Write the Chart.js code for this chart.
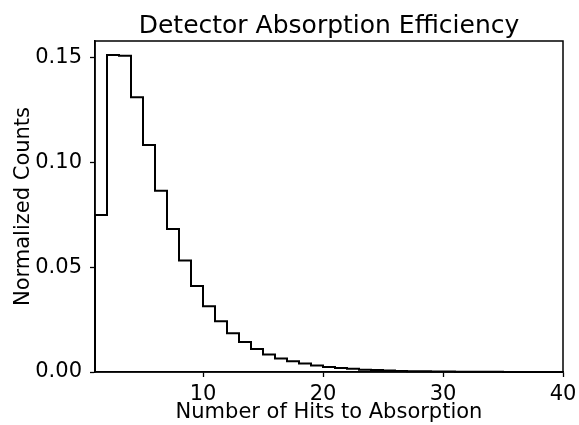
<!DOCTYPE html>
<html>
<head>
<meta charset="utf-8">
<script src="https://cdn.jsdelivr.net/npm/chart.js@4.4.1/dist/chart.umd.min.js"></script>
<style>
  html, body { margin: 0; padding: 0; background: #fff; }
  #wrap { width: 579px; height: 425px; }
</style>
</head>
<body>
<div id="wrap"><canvas id="myChart" width="579" height="425"></canvas></div>
<script>
// histogram bins: left edge of each bin (width 1) and normalized counts
var binEdges = [1, 2, 3, 4, 5, 6, 7, 8, 9, 10, 11, 12, 13, 14, 15, 16, 17, 18, 19, 20,
                21, 22, 23, 24, 25, 26, 27, 28, 29, 30, 31, 32, 33, 34, 35, 36, 37, 38, 39];
var counts = [0.0749, 0.1513, 0.1509, 0.1311, 0.1084, 0.0865, 0.0683, 0.0532, 0.0410, 0.0314,
              0.0242, 0.0185, 0.0143, 0.0110, 0.0084, 0.0065, 0.0051, 0.0040, 0.0031, 0.0024,
              0.0019, 0.0015, 0.0011, 0.0009, 0.0007, 0.0005, 0.0004, 0.0003, 0.0002, 0.0002,
              0.0001, 0.0001, 0.0001, 0.0001, 0.00005, 0.00005, 0.00003, 0.00003, 0.00002];
var xTicks = [10, 20, 30, 40];
var yTicks = [0, 0.05, 0.10, 0.15];
var xMin = 1, xMax = 40;
var yMin = 0, yMax = 0.158;
var chartTitle = "Detector Absorption Efficiency";

// step outline like matplotlib histtype='step'
var points = [{x: binEdges[0], y: 0}];
for (var i = 0; i < counts.length; i++) {
  points.push({x: binEdges[i], y: counts[i]});
}
points.push({x: xMax, y: 0});

var font = "'DejaVu Sans', sans-serif";

// box around the plot area (all four spines) + title centred over the axes
var frame = {
  id: 'frame',
  afterDraw: function(chart) {
    var a = chart.chartArea, ctx = chart.ctx;
    ctx.save();
    ctx.strokeStyle = '#000';
    ctx.lineWidth = 1.5;
    ctx.strokeRect(a.left, a.top, a.right - a.left, a.bottom - a.top);
    ctx.fillStyle = '#000';
    ctx.font = "25px " + font;
    ctx.textAlign = 'center';
    ctx.textBaseline = 'alphabetic';
    ctx.fillText(chartTitle, (a.left + a.right) / 2, 33);
    ctx.restore();
  }
};

new Chart("myChart", {
  type: "line",
  data: {
    datasets: [{
      data: points,
      stepped: 'before',
      borderColor: '#000',
      borderWidth: 2,
      pointRadius: 0,
      fill: false,
      clip: 2
    }]
  },
  options: {
    responsive: false,
    animation: false,
    layout: { padding: { left: 0, right: 16, top: 41, bottom: 0 } },
    plugins: {
      legend: { display: false },
      tooltip: { enabled: false },
      title: { display: false }
    },
    scales: {
      x: {
        type: 'linear',
        min: xMin,
        max: xMax,
        afterBuildTicks: function(s) { s.ticks = xTicks.map(function(v) { return {value: v}; }); },
        afterFit: function(s) { s.height = 53; s.paddingLeft = 0; s.paddingRight = 0; },
        grid: { drawOnChartArea: false, tickLength: 5, tickColor: '#000', tickWidth: 1.3 },
        border: { color: '#000', width: 1.5 },
        ticks: { color: '#000', font: { family: font, size: 21 }, padding: 5, maxRotation: 0 },
        title: {
          display: true,
          text: "Number of Hits to Absorption",
          color: '#000',
          font: { family: font, size: 21 },
          padding: { top: 0, bottom: 0 }
        }
      },
      y: {
        min: yMin,
        max: yMax,
        afterBuildTicks: function(s) { s.ticks = yTicks.map(function(v) { return {value: v}; }); },
        afterFit: function(s) { s.width = 95; s.paddingTop = 0; s.paddingBottom = 0; },
        grid: { drawOnChartArea: false, tickLength: 5, tickColor: '#000', tickWidth: 1.3 },
        border: { color: '#000', width: 1.5 },
        ticks: {
          color: '#000', font: { family: font, size: 21 }, padding: 8,
          callback: function(v) { return v.toFixed(2); }
        },
        title: {
          display: true,
          text: "Normalized Counts",
          color: '#000',
          font: { family: font, size: 21 },
          padding: { top: 11, bottom: 0 }
        }
      }
    }
  },
  plugins: [frame]
});
</script>
</body>
</html>
